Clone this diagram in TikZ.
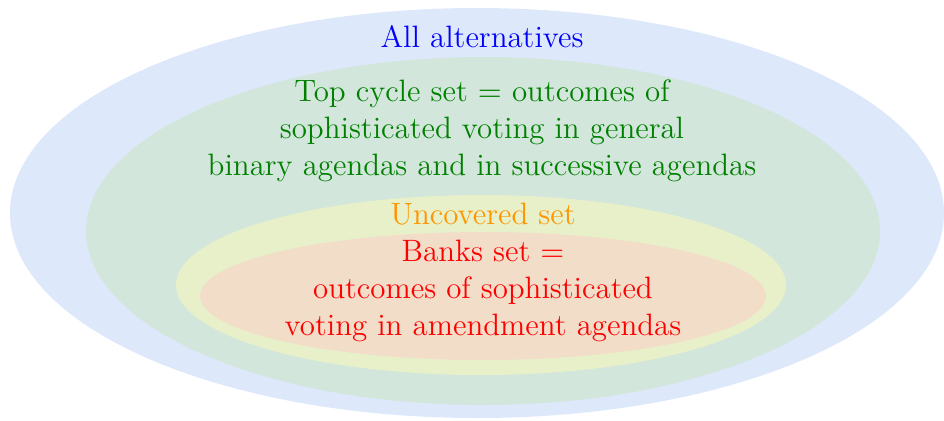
\documentclass[tikz,border=0pt]{standalone}
\usepackage{xcolor}
\usepackage{tikz}
\usetikzlibrary{positioning}

\definecolor{allfill}{RGB}{222,232,251}
\definecolor{topfill}{RGB}{211,230,220}
\definecolor{uncfill}{RGB}{232,240,201}
\definecolor{banksfill}{RGB}{242,221,201}
\definecolor{topcol}{RGB}{0,128,0}
\definecolor{unccol}{RGB}{255,150,0}

\begin{document}
\begin{tikzpicture}[
    x=0.0125cm, y=-0.0125cm,
    settext/.style={font=\fontsize{11}{13.1}\selectfont, align=center, inner sep=0pt},
]
\useasboundingbox (0,0) rectangle (944,420);

% Nested sets (outer to inner)
\fill[allfill] (477,213) ellipse [x radius=467, y radius=205];
\fill[topfill] (483,231) ellipse [x radius=397, y radius=174];
\fill[uncfill] (481,285) ellipse [x radius=305, y radius=90];
\fill[banksfill] (483,296) ellipse [x radius=283, y radius=64];

% Labels
\node[settext, text=blue] (all) at (482,37) {All alternatives};
\node[settext, text=topcol] (topcycle) at (482,131)
    {Top cycle set $=$ outcomes of\\sophisticated voting in general\\binary agendas and in successive agendas};
\node[settext, text=unccol] (uncovered) at (483,214) {Uncovered set};
\node[settext, text=red] (banks) at (483,291)
    {Banks set $=$\\outcomes of sophisticated\\voting in amendment agendas};
\end{tikzpicture}
\end{document}
